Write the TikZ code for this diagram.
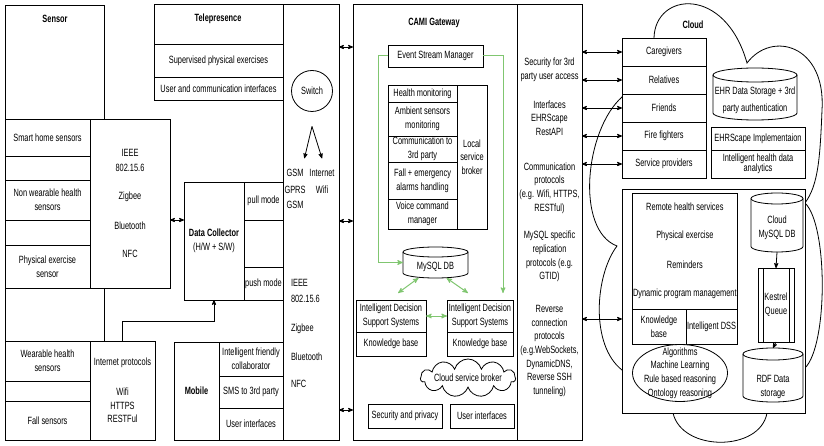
\documentclass[tikz,border=0pt]{standalone}
\usepackage{fontspec}
\setmainfont{Liberation Sans}[FakeStretch=0.705]
\usepackage{tikz}
\usetikzlibrary{shapes.geometric, shapes.symbols, arrows, positioning}
\definecolor{flowgreen}{RGB}{128,198,112}

% database drum over an empty node: node, half width, ellipse radius
\newcommand{\dbshape}[3]{%
    \draw[fill=white] ([yshift=-#3pt]#1.north west) -- ([yshift=#3pt]#1.south west)
        arc[start angle=180, end angle=360, x radius=#2pt, y radius=#3pt]
        -- ([yshift=-#3pt]#1.north east)
        arc[start angle=0, end angle=180, x radius=#2pt, y radius=#3pt] -- cycle;
    \draw ([yshift=-#3pt]#1.north west) arc[start angle=180, end angle=360, x radius=#2pt, y radius=#3pt];
}

\begin{document}
\begin{tikzpicture}[
            x=1pt, y=-1pt, % pixel grid, y runs down
            >=stealth',
            line width=0.8pt,
            every node/.style={font=\fontsize{10.5}{13.7}\selectfont, align=center, inner sep=1pt, outer sep=0pt}, % Plain text
            cell/.style 2 args={draw, fill=white, anchor=north west, minimum width=#1pt, minimum height=#2pt}, % Box from its top left corner
            title/.style={font=\fontsize{10.5}{12}\selectfont\bfseries}, % Bold heading
            dbbox/.style 2 args={minimum width=#1pt, minimum height=#2pt}, % Room for a database drum
            link/.style={<->}, % Two way link
            flow/.style={flowgreen, line width=1pt} % Green data flow
            ]
        \useasboundingbox (0,0) rectangle (824,446);

        % Sensor side
        \node[cell={99}{336}] (sensor) at (5,5) {};
        \node[title] (sensorT) at (55,19) {Sensor};
        \node[cell={85}{37}] (smarthome) at (5,119) {Smart home sensors};
        \node[cell={85}{24}] (gap1) at (5,156) {};
        \node[cell={85}{40}] (nonwear) at (5,180) {Non wearable health\\sensors};
        \node[cell={85}{25}] (gap2) at (5,220) {};
        \node[cell={85}{43}] (exsensor) at (5,245) {Physical exercise\\sensor};
        \node[cell={80}{169}] (wpan) at (90,119) {IEEE\\[1.3pt]802.15.6\\[14.3pt]Zigbee\\[16.3pt]Bluetooth\\[14.3pt]NFC};
        \node[cell={85}{40}] (wearable) at (5,341) {Wearable health\\sensors};
        \node[cell={85}{20}] (gap3) at (5,381) {};
        \node[cell={85}{39}] (fallsensor) at (5,401) {Fall sensors};
        \node[cell={65}{99}] (inet) at (90,341) {Internet protocols\\[16.3pt]Wifi\\HTTPS\\RESTFul};

        % Telepresence and radio column
        \node[cell={56}{436}] (radio) at (283,4) {};
        \node[cell={129}{40}] (tele) at (154,4) {};
        \node[title] (teleT) at (218,19) {Telepresence};
        \node[cell={129}{33}] (supervised) at (154,44) {Supervised physical exercises};
        \node[cell={129}{23}] (teleui) at (154,77) {User and communication interfaces};
        \node[circle, draw, minimum size=41pt] (switch) at (312,91) {Switch};
        \node (gsm) at (295,173) {GSM};
        \node (internet) at (322,173) {Internet};
        \node (gprs) at (295,197.5) {GPRS\\[1.3pt]GSM};
        \node (wifi) at (322,190) {Wifi};
        \node[anchor=west, align=left] (wban) at (290,333.5) {IEEE\\[2.3pt]802.15.6\\[15.3pt]Zigbee\\[15.3pt]Bluetooth\\[13.3pt]NFC};
        \draw[->] ([yshift=-15pt]switch.south) coordinate (fork) -- ([yshift=10pt]gsm.north east);
        \draw[->] (fork) -- ([yshift=10pt]internet.north);

        % Data collector
        \node[cell={60}{118}] (collector) at (184,182) {\textbf{Data Collector}\\(H/W + S/W)};
        \node[cell={39}{38}] (pull) at (244,182) {pull mode};
        \node[cell={39}{47}] (gap4) at (244,220) {};
        \node[cell={39}{33}] (push) at (244,267) {push mode};
        \draw[link] (wpan.east |- pull.south) -- (collector.west |- pull.south);
        \draw[->] (inet.north) -- ++(0,-20) -| (collector.south);

        % Mobile
        \node[cell={45}{98}] (mobile) at (174,342) {\textbf{Mobile}};
        \node[cell={64}{34}] (friendly) at (219,342) {Intelligent friendly\\collaborator};
        \node[cell={64}{32}] (sms) at (219,376) {SMS to 3rd party};
        \node[cell={64}{32}] (mobileui) at (219,408) {User interfaces};

        % CAMI gateway
        \node[cell={164}{436}] (gateway) at (353,4) {};
        \node[cell={65}{436}] (protocols) at (517,4) {};
        \node[title] (gatewayT) at (434,23) {CAMI Gateway};
        \foreach \y in {47,221,410}
            \draw[link] (radio.east |- 0,\y) -- (gateway.west |- 0,\y);
        \node[cell={95}{22}] (esm) at (388,45) {Event Stream Manager};
        \node[cell={69}{17}] (healthmon) at (388,85) {Health monitoring};
        \node[cell={69}{34}] (ambient) at (388,102) {Ambient sensors\\monitoring};
        \node[cell={69}{26}] (thirdparty) at (388,136) {Communication to\\3rd party};
        \node[cell={69}{37}] (alarms) at (388,162) {Fall + emergency\\alarms handling};
        \node[cell={69}{30}] (voice) at (388,199) {Voice command\\manager};
        \node[cell={30}{144}] (broker) at (457,85) {Local\\service\\broker};
        \node[dbbox={65}{31}] (mysql) at (435.5,262.5) {};
        \dbshape{mysql}{32.5}{5}
        \node (mysqlT) at (435.5,266.5) {MySQL DB};
        \node[cell={70}{32}] (idss1) at (356,300) {Intelligent Decision\\Support Systems};
        \node[cell={70}{24}] (kb1) at (356,332) {Knowledge base};
        \node[cell={66}{32}] (idss2) at (447,300) {Intelligent Decision\\Support Systems};
        \node[cell={66}{24}] (kb2) at (447,332) {Knowledge base};
        \node[cloud, draw, cloud puffs=11, aspect=2.5, minimum width=95pt, minimum height=38pt] (servicecloud) at (468,378) {};
        \node (servicecloudT) at (servicecloud) {Cloud service broker};
        \node[cell={74}{24}] (secpriv) at (368,404) {Security and privacy};
        \node[cell={64}{24}] (gatewayui) at (450,404) {User interfaces};
        % green flows
        \draw[flow, ->] (esm.west) -- ++(-10,0) |- (mysql.west);
        \draw[flow, ->] (esm.east) -- ++(20,0) -- ([shift={(23,-7)}]idss2.north);
        \draw[flow, <->] ([shift={(-17,0)}]mysql.south) -- ([shift={(7,-7)}]idss1.north);
        \draw[flow, <->] ([shift={(11,0)}]mysql.south) -- ([shift={(-12,-7)}]idss2.north);
        \draw[flow, <->] (idss1.east) -- (idss2.west);

        % protocols
        \node (secaccess) at (549.5,69.5) {Security for 3rd\\party user access};
        \node (ehrapi) at (549.5,118) {Interfaces\\EHRScape\\RestAPI};
        \node (commproto) at (549.5,188) {Communication\\protocols\\(e.g. Wifi, HTTPS,\\RESTful)};
        \node (replproto) at (549.5,256.5) {MySQL specific\\replication\\protocols (e.g.\\GTID)};
        \node (revproto) at (549.5,351) {Reverse\\connection\\protocols\\(e.g.WebSockets,\\DynamicDNS,\\Reverse SSH\\tunneling)};

        % Cloud outline
        \draw (654,38) .. controls (655,-8) and (725,-15) .. (747,63)
            .. controls (772,30) and (826,45) .. (822,110)
            .. controls (820,160) and (818,185) .. (805,203)
            .. controls (828,225) and (828,345) .. (805,368)
            -- (767,413) .. controls (760,452) and (682,452) .. (673,413)
            -- (622,370) .. controls (590,345) and (595,275) .. (617,246)
            .. controls (575,230) and (585,130) .. (622,97) -- cycle;
        \node[title] (cloudT) at (693,25) {Cloud};

        % Cloud services
        \node[cell={84}{28}] (caregivers) at (622,38) {Caregivers};
        \node[cell={84}{28}] (relatives) at (622,66) {Relatives};
        \node[cell={84}{28}] (friends) at (622,94) {Friends};
        \node[cell={84}{28}] (firefighters) at (622,122) {Fire fighters};
        \node[cell={84}{28}] (providers) at (622,150) {Service providers};
        \foreach \row in {caregivers,relatives,friends,firefighters,providers}
            \draw[link] (protocols.east |- \row.west) -- (\row.west);
        \node[dbbox={84}{52}] (ehr) at (755,94) {};
        \dbshape{ehr}{42}{7}
        \node (ehrT) at (755,100.5) {EHR Data Storage + 3rd\\[3.3pt]party authentication};
        \node[cell={94}{23}] (ehrscape) at (711,127) {EHRScape Implementaion};
        \node[cell={94}{28}] (analytics) at (711,150) {Intelligent health data\\[-3.5pt]analytics};

        \node[cell={183}{224}] (bigbox) at (622,189) {};
        \coordinate (revend) at ([yshift=-18pt]bigbox.west);
        \draw[link] (protocols.east |- revend) -- (revend);
        \node[cell={105}{116}] (services) at (632,193) {Remote health services\\[14.3pt]Physical exercise\\[16.3pt]Reminders\\[14.3pt]Dynamic program management};
        \node[cell={54}{35}] (kbase) at (632,309) {Knowledge\\base};
        \node[cell={51}{35}, inner xsep=0pt] (dss) at (686,309) {Intelligent DSS};
        \node[ellipse, draw, fill=white, minimum width=95pt, minimum height=57pt] (algos) at (680,373) {};
        \node (algosT) at (algos) {Algorithms\\Machine Learning\\Rule based reasoning\\Ontology reasoning};
        \node[dbbox={52}{59}] (cloudsql) at (777,222.5) {};
        \dbshape{cloudsql}{26}{5.5}
        \node (cloudsqlT) at (777,228) {Cloud\\MySQL DB};
        \node[cell={36}{74}] (kestrel) at (758,268) {Kestrel\\Queue};
        \draw ([xshift=5pt]kestrel.north west) -- ([xshift=5pt]kestrel.south west);
        \draw ([xshift=-5pt]kestrel.north east) -- ([xshift=-5pt]kestrel.south east);
        \node[dbbox={60}{54}] (rdf) at (773,375) {};
        \dbshape{rdf}{30}{6}
        \node (rdfT) at (773,387) {RDF Data\\storage};
        \draw[->] (cloudsql.south) -- (kestrel.north);
        \draw[->] (kestrel.south) -- (rdf.north);

            \end{tikzpicture}
\end{document}
